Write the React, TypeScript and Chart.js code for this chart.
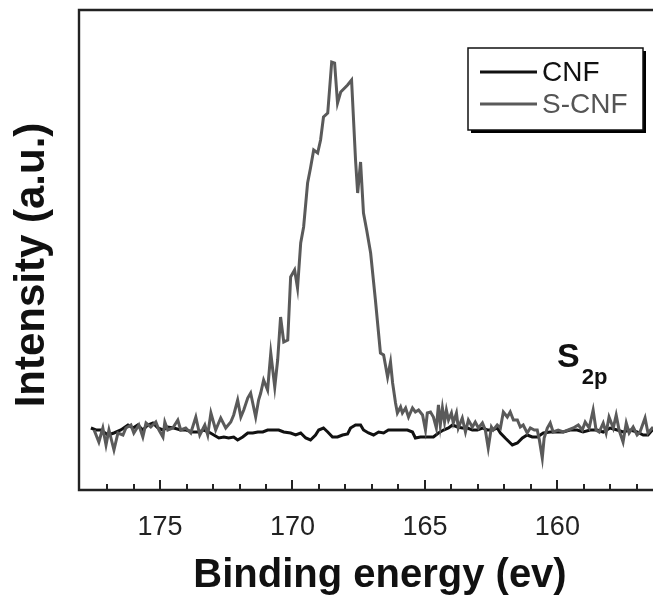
import React, { useEffect, useRef } from "react";
import { Chart, registerables } from "chart.js";
Chart.register(...registerables);

// ---- data ----
const cnfEnergy = [
  177.61, 177.42, 177.23, 176.97, 176.74, 176.48, 176.21, 176.02, 175.84, 175.65,
  175.46, 175.27, 175.08, 174.89, 174.71, 174.48, 174.22, 174.03, 173.76, 173.54,
  173.35, 173.16, 172.97, 172.78, 172.59, 172.41, 172.22, 172.07, 171.88, 171.69,
  171.5, 171.31, 171.12, 170.94, 170.71, 170.52, 170.33, 170.07, 169.88, 169.69,
  169.5, 169.32, 169.13, 169.01, 168.83, 168.67, 168.49, 168.3, 168.11, 167.92,
  167.81, 167.62, 167.43, 167.32, 167.13, 166.94, 166.75, 166.56, 166.38, 166.19,
  165.92, 165.66, 165.47, 165.36, 165.17, 164.91, 164.68, 164.49, 164.3, 164.11,
  163.96, 163.77, 163.59, 163.4, 163.21, 163.02, 162.83, 162.64, 162.46, 162.27,
  162.15, 161.97, 161.7, 161.51, 161.32, 161.14, 160.95, 160.76, 160.53, 160.27,
  160.01, 159.78, 159.52, 159.25, 159.03, 158.76, 158.5, 158.27, 158.01, 157.74,
  157.52, 157.25, 156.99, 156.76, 156.58, 156.42, 156.2,
];
const cnfIntensity = [
  62, 60, 60, 55, 57, 60, 65, 62, 65, 60,
  65, 67, 62, 60, 63, 62, 60, 60, 58, 58,
  60, 58, 55, 52, 53, 52, 53, 50, 53, 57,
  57, 58, 58, 60, 60, 60, 58, 57, 55, 57,
  52, 50, 55, 60, 62, 58, 53, 53, 55, 56,
  62, 65, 65, 60, 57, 55, 58, 57, 60, 60,
  60, 60, 58, 52, 53, 53, 53, 57, 60, 62,
  65, 63, 62, 62, 60, 60, 62, 60, 60, 62,
  57, 52, 45, 47, 52, 55, 53, 53, 57, 58,
  58, 58, 60, 60, 58, 60, 60, 58, 62, 60,
  58, 60, 58, 55, 55, 60, 58,
];
const scnfEnergy = [
  177.49, 177.31, 177.16, 177.04, 176.93, 176.74, 176.59, 176.4, 176.29, 176.1,
  175.99, 175.8, 175.65, 175.53, 175.35, 175.16, 175.04, 174.89, 174.82, 174.71,
  174.52, 174.33, 174.22, 174.03, 173.84, 173.65, 173.5, 173.31, 173.2, 173.08,
  172.9, 172.71, 172.52, 172.33, 172.22, 172.07, 171.95, 171.84, 171.69, 171.58,
  171.39, 171.28, 171.2, 171.09, 170.94, 170.82, 170.67, 170.56, 170.45, 170.33,
  170.18, 170.07, 169.92, 169.81, 169.69, 169.58, 169.43, 169.32, 169.2, 169.05,
  168.94, 168.83, 168.67, 168.52, 168.41, 168.3, 168.18, 168.03, 167.92, 167.77,
  167.62, 167.54, 167.43, 167.32, 167.2, 167.05, 166.87, 166.68, 166.56, 166.41,
  166.3, 166.22, 166.11, 166.04, 165.92, 165.85, 165.73, 165.62, 165.47, 165.36,
  165.24, 165.09, 164.98, 164.91, 164.79, 164.68, 164.57, 164.49, 164.42, 164.34,
  164.26, 164.19, 164.11, 164.0, 163.93, 163.81, 163.74, 163.59, 163.47, 163.36,
  163.21, 163.1, 162.98, 162.83, 162.72, 162.61, 162.49, 162.42, 162.27, 162.15,
  162.04, 161.89, 161.78, 161.66, 161.51, 161.4, 161.29, 161.14, 161.02, 160.87,
  160.76, 160.68, 160.57, 160.5, 160.38, 160.27, 160.16, 159.97, 159.78, 159.59,
  159.4, 159.21, 159.06, 158.95, 158.8, 158.65, 158.54, 158.42, 158.27, 158.16,
  158.05, 157.89, 157.78, 157.67, 157.52, 157.4, 157.29, 157.14, 156.99, 156.88,
  156.69, 156.58, 156.42, 156.25,
];
const scnfIntensity = [
  60, 48, 62, 45, 60, 40, 57, 55, 62, 65,
  57, 65, 53, 67, 63, 68, 60, 53, 68, 60,
  62, 70, 60, 62, 57, 73, 55, 65, 55, 77,
  60, 72, 62, 68, 75, 90, 73, 80, 92, 97,
  73, 90, 97, 110, 100, 137, 103, 130, 173, 148,
  150, 213, 220, 202, 247, 263, 307, 322, 340, 337,
  350, 373, 377, 428, 427, 387, 398, 402, 405, 410,
  330, 297, 328, 277, 260, 237, 190, 137, 135, 113,
  128, 107, 87, 77, 83, 77, 82, 73, 82, 78,
  80, 75, 60, 77, 78, 73, 62, 85, 65, 82,
  68, 80, 70, 77, 67, 77, 62, 72, 58, 70,
  63, 68, 62, 67, 60, 42, 63, 60, 65, 62,
  78, 73, 78, 70, 70, 63, 65, 57, 62, 60,
  60, 50, 32, 52, 62, 67, 58, 60, 58, 60,
  62, 65, 60, 68, 62, 80, 60, 58, 67, 57,
  73, 62, 75, 60, 48, 67, 57, 63, 55, 58,
  72, 57, 62, 60,
];
const majorTicks = [175, 170, 165, 160];
const minorTicks = [177, 176, 174, 173, 172, 171, 169, 168, 167, 166, 164, 163, 162, 161, 159, 158, 157];
const xMin = 156.39;
const xMax = 178.06;
const yMin = 0;
const yMax = 480;
const seriesNames = ["CNF", "S-CNF"];
const seriesColors = ["#111111", "#5a5a5a"];
const xTitle = "Binding energy (ev)";
const yTitle = "Intensity (a.u.)";
const peakMain = "S";
const peakSub = "2p";

const FONT = "'Liberation Sans', Arial, Helvetica, sans-serif";

const decorPlugin = {
  id: "decor",
  afterDatasetsDraw(chart: any) {
    const { ctx, chartArea, scales } = chart;
    const { left, top, right, bottom } = chartArea;
    const x = scales.x;
    ctx.save();
    // frame
    ctx.strokeStyle = "#222";
    ctx.lineWidth = 2.4;
    ctx.beginPath();
    ctx.moveTo(right + 5, top);
    ctx.lineTo(left, top);
    ctx.lineTo(left, bottom);
    ctx.lineTo(right + 5, bottom);
    ctx.stroke();
    // inward ticks
    ctx.lineWidth = 2;
    ctx.beginPath();
    majorTicks.forEach((v) => {
      const px = Math.round(x.getPixelForValue(v));
      ctx.moveTo(px, bottom);
      ctx.lineTo(px, bottom - 10);
    });
    minorTicks.forEach((v) => {
      const px = Math.round(x.getPixelForValue(v));
      ctx.moveTo(px, bottom);
      ctx.lineTo(px, bottom - 6);
    });
    ctx.stroke();

    // legend box
    const bx = 468, by = 48, bw = 175, bh = 82;
    ctx.fillStyle = "#000";
    ctx.fillRect(bx + 3, by + 3, bw, bh);
    ctx.fillStyle = "#fff";
    ctx.fillRect(bx, by, bw, bh);
    ctx.lineWidth = 1.5;
    ctx.strokeStyle = "#111";
    ctx.strokeRect(bx, by, bw, bh);
    const rows = [72, 104];
    seriesNames.forEach((name, i) => {
      ctx.strokeStyle = seriesColors[i];
      ctx.lineWidth = 2.8;
      ctx.beginPath();
      ctx.moveTo(bx + 12, rows[i]);
      ctx.lineTo(bx + 69, rows[i]);
      ctx.stroke();
      ctx.fillStyle = i === 0 ? "#111" : "#555";
      ctx.font = `28px ${FONT}`;
      ctx.textBaseline = "middle";
      ctx.textAlign = "left";
      ctx.fillText(name, bx + 74, rows[i] + 1);
    });

    // S2p label
    ctx.fillStyle = "#111";
    ctx.textBaseline = "alphabetic";
    ctx.font = `bold 34px ${FONT}`;
    ctx.fillText(peakMain, 557, 367);
    const sw = ctx.measureText(peakMain).width;
    ctx.font = `bold 22px ${FONT}`;
    ctx.fillText(peakSub, 557 + sw + 2, 384);

    // axis titles
    ctx.font = `bold 40px ${FONT}`;
    ctx.textAlign = "center";
    ctx.fillText(xTitle, 380, 587);
    ctx.save();
    ctx.translate(44, 265);
    ctx.rotate(-Math.PI / 2);
    ctx.font = `bold 42px ${FONT}`;
    ctx.fillText(yTitle, 0, 0);
    ctx.restore();
    ctx.restore();
  },
};

export default function App() {
  const ref = useRef<HTMLCanvasElement | null>(null);
  useEffect(() => {
    if (!ref.current) return;
    const chart = new Chart(ref.current, {
      type: "line",
      data: {
        datasets: [
          {
            label: seriesNames[1],
            data: scnfEnergy.map((e, i) => ({ x: e, y: scnfIntensity[i] })),
            borderColor: seriesColors[1],
            borderWidth: 3,
            pointRadius: 0,
            tension: 0,
            order: 0,
          },
          {
            label: seriesNames[0],
            data: cnfEnergy.map((e, i) => ({ x: e, y: cnfIntensity[i] })),
            borderColor: seriesColors[0],
            borderWidth: 3,
            pointRadius: 0,
            tension: 0,
            order: 1,
          },
        ],
      },
      options: {
        responsive: false,
        animation: false,
        devicePixelRatio: 1,
        layout: { padding: { top: 10, left: 0, right: 0, bottom: 0 } },
        plugins: { legend: { display: false }, tooltip: { enabled: false } },
        scales: {
          x: {
            type: "linear",
            reverse: true,
            min: xMin,
            max: xMax,
            grid: { display: false, drawTicks: false },
            border: { display: false },
            afterFit: (s: any) => {
              s.height = 112;
            },
            afterBuildTicks: (s: any) => {
              s.ticks = majorTicks.map((v) => ({ value: v }));
            },
            ticks: {
              font: { family: FONT, size: 27 },
              color: "#222",
              padding: 21,
              maxRotation: 0,
              autoSkip: false,
            },
          },
          y: {
            type: "linear",
            min: yMin,
            max: yMax,
            grid: { display: false },
            border: { display: false },
            ticks: { display: false },
            afterFit: (s: any) => {
              s.width = 79;
            },
          },
        },
      },
      plugins: [decorPlugin],
    } as any);
    return () => chart.destroy();
  }, []);
  return (
    <div style={{ position: "fixed", left: 0, top: 0, width: 653, height: 602, background: "#fff" }}>
      <canvas ref={ref} width={653} height={602} style={{ display: "block" }} />
    </div>
  );
}
